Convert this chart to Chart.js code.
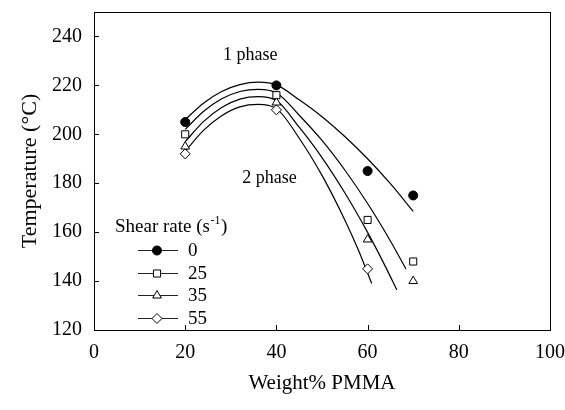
<!DOCTYPE html>
<html><head><meta charset="utf-8">
<script src="https://cdn.jsdelivr.net/npm/chart.js"></script>
<style>html,body{margin:0;padding:0;background:#fff}canvas{display:block}</style>
</head><body>
<canvas id="c" width="565" height="410"></canvas>
<script>
// ---- data ----
const xTicks = [0, 20, 40, 60, 80, 100];
const yTicks = [120, 140, 160, 180, 200, 220, 240];
const seriesLabels = ['0', '25', '35', '55'];

const pmma   = [20, 40, 60, 70];
const pmma55 = [20, 40, 60];
const t0  = [205, 220, 185, 175];
const t25 = [200, 216, 165, 148];
const t35 = [195, 213, 157, 140];
const t55 = [192, 210, 145];

// fitted curves
const curveX0  = [20, 24, 28, 32, 36, 40, 45, 50, 55, 60, 65, 70];
const curveT0  = [206, 212.7, 217.5, 220.3, 221.3, 220.2, 214.1, 207.2, 199.1, 190, 179.8, 168.5];
const curveX25 = [20, 24, 28, 32, 36, 40, 45, 50, 55, 60, 65, 68.4];
const curveT25 = [202, 209.3, 214.5, 217.5, 218.4, 217, 207.8, 197.5, 185.4, 171.7, 156.4, 145];
const curveX35 = [20, 24, 28, 32, 36, 40, 45, 50, 55, 60, 64, 66.4];
const curveT35 = [197, 205.2, 211, 214.4, 215.4, 213.8, 202.9, 190.5, 176.1, 159.9, 145.6, 136.4];
const curveX55 = [20, 24, 28, 32, 36, 40, 45, 50, 55, 58, 60.9];
const curveT55 = [193, 201.6, 207.6, 211.2, 212.2, 210.5, 198.4, 183.2, 165, 152.6, 139];

const annotations = [
  {text: '1 phase', x: 28.3, y: 232.3},
  {text: '2 phase', x: 32.5, y: 181.9}
];

// ---- build chart ----
const zip = (xs, ys) => xs.map((v, i) => ({x: v, y: ys[i]}));
const SERIF = '"Liberation Serif", "Times New Roman", serif';

const pointStyles = [
  {pointStyle: 'circle',   pointRadius: 4.5, backgroundColor: '#000'},
  {pointStyle: 'rect',     pointRadius: 5,   backgroundColor: '#fff'},
  {pointStyle: 'triangle', pointRadius: 5,   backgroundColor: '#fff'},
  {pointStyle: 'rectRot',  pointRadius: 5,   backgroundColor: '#fff'}
];
const pts = [zip(pmma, t0), zip(pmma, t25), zip(pmma, t35), zip(pmma55, t55)];
const curves = [zip(curveX0, curveT0), zip(curveX25, curveT25), zip(curveX35, curveT35), zip(curveX55, curveT55)];

const datasets = [];
pts.forEach((d, i) => datasets.push(Object.assign({
  label: seriesLabels[i], data: d, showLine: false, order: 0,
  borderColor: '#000', pointBorderWidth: 1, pointBorderColor: '#000',
  pointBackgroundColor: pointStyles[i].backgroundColor
}, pointStyles[i])));
curves.forEach((d, i) => datasets.push({
  label: 'fit ' + seriesLabels[i], data: d, showLine: true, order: 1,
  borderColor: '#000', borderWidth: 1.2, pointRadius: 0, fill: false,
  cubicInterpolationMode: 'monotone'
}));

function drawMarker(ctx, style, r, x, y, bg) {
  ctx.save();
  ctx.fillStyle = bg; ctx.strokeStyle = '#000'; ctx.lineWidth = 1;
  if (Chart.helpers && Chart.helpers.drawPoint) {
    Chart.helpers.drawPoint(ctx, {pointStyle: style, radius: r, rotation: 0, borderWidth: 1}, x, y);
  } else {
    ctx.beginPath();
    if (style === 'circle') ctx.arc(x, y, r, 0, Math.PI * 2);
    else if (style === 'rect') { const s = r * Math.SQRT1_2; ctx.rect(x - s, y - s, 2 * s, 2 * s); }
    else if (style === 'triangle') { ctx.moveTo(x, y - r); ctx.lineTo(x + r * 0.866, y + r / 2); ctx.lineTo(x - r * 0.866, y + r / 2); ctx.closePath(); }
    else { ctx.moveTo(x, y - r); ctx.lineTo(x + r, y); ctx.lineTo(x, y + r); ctx.lineTo(x - r, y); ctx.closePath(); }
    ctx.fill(); ctx.stroke();
  }
  ctx.restore();
}

const deco = {
  id: 'deco',
  afterDraw(chart) {
    const {ctx, chartArea: a, scales: {x, y}} = chart;
    ctx.save();
    ctx.strokeStyle = '#000'; ctx.lineWidth = 1;
    ctx.strokeRect(a.left + 0.5, a.top + 0.5, a.right - a.left, a.bottom - a.top);
    ctx.beginPath();
    xTicks.forEach(v => { const px = Math.round(x.getPixelForValue(v)) + 0.5; ctx.moveTo(px, a.bottom); ctx.lineTo(px, a.bottom - 5); });
    yTicks.forEach(v => { const py = Math.round(y.getPixelForValue(v)) + 0.5; ctx.moveTo(a.left, py); ctx.lineTo(a.left + 5, py); });
    ctx.stroke();

    // annotations
    ctx.fillStyle = '#000';
    ctx.font = '18px ' + SERIF;
    ctx.textAlign = 'left'; ctx.textBaseline = 'middle';
    annotations.forEach(t => ctx.fillText(t.text, x.getPixelForValue(t.x), y.getPixelForValue(t.y)));

    // legend
    const lx = 115, ly = 227;
    ctx.font = '19px ' + SERIF;
    let s1 = 'Shear rate (s';
    ctx.fillText(s1, lx, ly);
    let w = ctx.measureText(s1).width;
    ctx.font = '12px ' + SERIF;
    ctx.fillText('-1', lx + w + 0.5, ly - 6);
    const w2 = ctx.measureText('-1').width;
    ctx.font = '19px ' + SERIF;
    ctx.fillText(')', lx + w + w2 + 1, ly);
    const rowY0 = 250, rowStep = 22.7;
    for (let i = 0; i < 4; i++) {
      const ds = chart.data.datasets[i];
      const ry = rowY0 + i * rowStep;
      ctx.strokeStyle = '#222'; ctx.lineWidth = 1;
      ctx.beginPath(); ctx.moveTo(138, Math.round(ry) + 0.5); ctx.lineTo(178, Math.round(ry) + 0.5); ctx.stroke();
      drawMarker(ctx, ds.pointStyle, ds.pointRadius, 157, Math.round(ry) + 0.5, ds.pointBackgroundColor);
      ctx.fillStyle = '#000';
      ctx.font = '19px ' + SERIF;
      ctx.fillText(ds.label, 188, ry + 1);
    }
    ctx.restore();
  }
};

new Chart(document.getElementById('c'), {
  type: 'scatter',
  data: {datasets},
  options: {
    responsive: false, animation: false,
    layout: {padding: {top: 12, right: 15, left: 0, bottom: 0}},
    plugins: {legend: {display: false}, tooltip: {enabled: false}},
    scales: {
      x: {
        type: 'linear', min: 0, max: 100,
        afterBuildTicks: s => { s.ticks = xTicks.map(v => ({value: v})); },
        afterFit: s => { s.height = 80; s.paddingLeft = 0; s.paddingRight = 0; },
        grid: {display: false, drawTicks: false}, border: {display: false},
        ticks: {color: '#000', font: {family: SERIF, size: 20}, padding: 11, maxRotation: 0, autoSkip: false},
        title: {display: true, text: 'Weight% PMMA', color: '#000', font: {family: SERIF, size: 21}, padding: {top: 0, bottom: 14}}
      },
      y: {
        type: 'linear', min: 120, max: 250,
        afterBuildTicks: s => { s.ticks = yTicks.map(v => ({value: v})); },
        afterFit: s => { s.width = 94; s.paddingTop = 0; s.paddingBottom = 0; },
        grid: {display: false, drawTicks: false}, border: {display: false},
        ticks: {color: '#000', font: {family: SERIF, size: 20}, padding: 12, autoSkip: false},
        title: {display: true, text: 'Temperature (°C)', color: '#000', font: {family: SERIF, size: 22}, padding: {top: 17, bottom: 0}}
      }
    }
  },
  plugins: [deco]
});
</script>
</body></html>
